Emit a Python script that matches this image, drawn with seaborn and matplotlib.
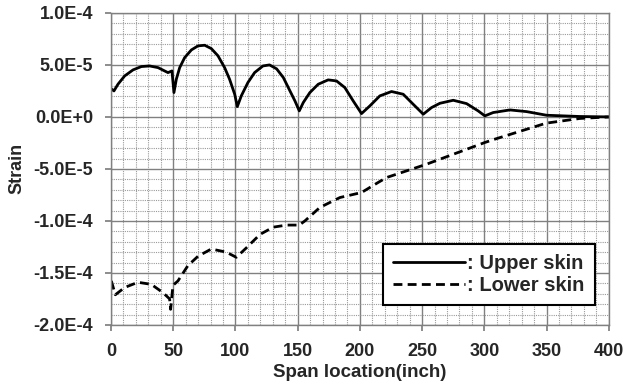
import numpy as np
import pandas as pd
import matplotlib
matplotlib.use("Agg")
import matplotlib.pyplot as plt
from matplotlib.ticker import MultipleLocator
import seaborn as sns

# Upper skin strain (units of 1E-5)
upper_x = [0, 2.4, 5.6, 11, 17.7, 24.4, 31, 37.8, 43.1, 45.8, 49, 50.6, 52.5, 55.2, 59.2,
           64.6, 69.9, 75.3, 80.6, 86, 91.3, 95.3, 99.4, 101.5, 104.7, 110, 115.4, 122.1,
           127.4, 133.1, 138.5, 143.8, 147.8, 151.3, 154.5, 159.8, 166.5, 174.5, 181.2,
           187.9, 194.6, 201.3, 208, 216, 225.4, 234.8, 242.8, 250.9, 257.6, 264.3, 275,
           285.7, 295, 300.4, 307.1, 320.5, 333.9, 350, 376.7, 400]
upper_y = [2.72, 2.5, 3.14, 3.94, 4.52, 4.84, 4.9, 4.74, 4.42, 4.26, 4.42, 2.34, 3.62, 4.74,
           5.7, 6.44, 6.83, 6.89, 6.57, 5.87, 4.74, 3.62, 2.18, 0.99, 2.02, 3.3, 4.26, 4.9,
           5.0, 4.62, 3.78, 2.5, 1.54, 0.58, 1.38, 2.34, 3.14, 3.56, 3.46,
           2.82, 1.54, 0.32, 1.06, 2.02, 2.44, 2.18, 1.22, 0.26, 0.9, 1.31, 1.6,
           1.28, 0.58, 0.1, 0.42, 0.67, 0.51, 0.16, 0.04, 0.0]

# Lower skin strain (units of 1E-5)
lower_x = [0.3, 3.5, 11, 21.7, 32.4, 41.8, 47.1, 47.9, 49.8, 53.8, 61.8, 69.9, 80.6, 92.6,
           100.7, 108.7, 119.7, 130.4, 141.1, 151.3, 155.8, 167.9, 184, 201.3, 214.7, 221.4,
           253.5, 300.4, 308.4, 349.7, 376.7, 400]
lower_y = [-15.77, -17.1, -16.4, -15.9, -16.1, -16.9, -17.5, -18.5, -16.2, -15.77, -14.3,
           -13.4, -12.7, -13.0, -13.5, -12.6, -11.3, -10.6, -10.4, -10.4, -10.0, -8.7, -7.75,
           -7.27, -6.3, -5.83, -4.55, -2.46, -2.14, -0.6, -0.15, 0.0]

x_ticks = [0, 50, 100, 150, 200, 250, 300, 350, 400]
y_ticks = [-2.0e-4, -1.5e-4, -1.0e-4, -5.0e-5, 0.0, 5.0e-5, 1.0e-4]
y_tick_labels = ["-2.0E-4", "-1.5E-4", "-1.0E-4", "-5.0E-5", "0.0E+0", "5.0E-5", "1.0E-4"]
series_labels = [": Upper skin", ": Lower skin"]

sns.set_theme(style="white")
plt.rcParams['font.family'] = ['Liberation Sans', 'DejaVu Sans']
plt.rcParams['font.weight'] = 'bold'

df_up = pd.DataFrame({"x": upper_x, "y": np.array(upper_y) * 1e-5})
df_lo = pd.DataFrame({"x": lower_x, "y": np.array(lower_y) * 1e-5})

fig = plt.figure(figsize=(6.27, 3.91), dpi=100)
ax = fig.add_axes([0.177, 0.169, 0.794, 0.798])

sns.lineplot(data=df_up, x="x", y="y", ax=ax, color="black", linewidth=2.0,
             label=series_labels[0], sort=False)
sns.lineplot(data=df_lo, x="x", y="y", ax=ax, color="black", linewidth=2.0,
             linestyle=(0, (3.2, 1.9)), label=series_labels[1], sort=False)
for ln in ax.get_lines():
    ln.set_solid_joinstyle("round")
    ln.set_dash_joinstyle("round")

ax.set_xlim(0, 400)
ax.set_ylim(-2.0e-4, 1.0e-4)
ax.set_xticks(x_ticks)
ax.set_xticklabels([str(v) for v in x_ticks])
ax.set_yticks(y_ticks)
ax.set_yticklabels(y_tick_labels)
ax.xaxis.set_minor_locator(MultipleLocator(10))
ax.yaxis.set_minor_locator(MultipleLocator(1e-5))

ax.grid(which="major", color="#808080", linewidth=1.0, linestyle="-")
ax.grid(which="minor", color="#9a9a9a", linewidth=0.8, linestyle=(0, (1, 1)))
ax.set_axisbelow(True)

for s in ax.spines.values():
    s.set_color("#808080")
    s.set_linewidth(1.0)

ax.tick_params(axis="both", which="major", labelsize=13, length=4, color="#808080",
               direction="out")
ax.tick_params(axis="both", which="minor", length=0)
ax.tick_params(axis="x", pad=9, bottom=True)
ax.tick_params(axis="y", pad=9, left=True)
for lab in ax.get_xticklabels() + ax.get_yticklabels():
    lab.set_fontweight("bold")

ax.set_xlabel("Span location(inch)", fontsize=13.5, fontweight="bold", labelpad=3)
ax.set_ylabel("Strain", fontsize=13, fontweight="bold", labelpad=6)

leg = ax.legend(loc="lower right", bbox_to_anchor=(0.972, 0.064), fontsize=14.5,
                handlelength=3.6, handletextpad=0.1, borderpad=0.5, labelspacing=0.15,
                fancybox=False, frameon=True, borderaxespad=0)
leg.get_frame().set_edgecolor("black")
leg.get_frame().set_linewidth(1.5)
leg.get_frame().set_alpha(1)
for t in leg.get_texts():
    t.set_fontweight("bold")

fig.savefig("out.png", dpi=100)
